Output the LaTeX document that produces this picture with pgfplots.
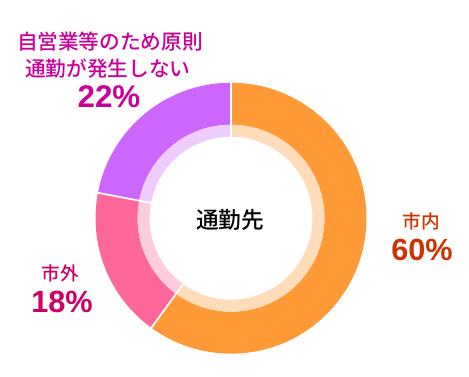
\documentclass[border=0pt]{standalone}
\usepackage{fontspec}
\setmainfont{Liberation Sans}
\newfontfamily\cjk{Noto Sans CJK JP Medium}
\usepackage{pgfplots}
\usepackage{pgfplotstable}
\pgfplotsset{compat=1.18}
\usetikzlibrary{calc}

\definecolor{orangeM}{HTML}{FF9A36}
\definecolor{orangeL}{HTML}{FFDDBB}
\definecolor{pinkM}{HTML}{FF6699}
\definecolor{pinkL}{HTML}{FFCCDD}
\definecolor{purpleM}{HTML}{CC66FF}
\definecolor{purpleL}{HTML}{EECCFF}
\definecolor{labOrange}{HTML}{CC3300}
\definecolor{labPink}{HTML}{CC0066}
\definecolor{labPurple}{HTML}{CC0099}

\pgfplotstableread{
part value
shinai 60
shigai 18
jiei 22
}\commutetable

\pgfplotstablegetelem{0}{value}\of\commutetable \edef\va{\pgfplotsretval}
\pgfplotstablegetelem{1}{value}\of\commutetable \edef\vb{\pgfplotsretval}
\pgfplotstablegetelem{2}{value}\of\commutetable \edef\vc{\pgfplotsretval}
\pgfmathsetmacro\aA{90}
\pgfmathsetmacro\aB{90-3.6*\va}
\pgfmathsetmacro\aC{\aB-3.6*\vb}
\pgfmathsetmacro\aD{\aC-3.6*\vc}

% radii (pt): outer, main inner, light inner
\newcommand\rO{101.6pt}
\newcommand\rM{70.1pt}
\newcommand\rL{61.1pt}

\newcommand\sector[4]{%
  \fill[#3] ([shift={(#1:\rO)}]c) arc[start angle=#1,end angle=#2,radius=\rO]
     -- ([shift={(#2:\rM)}]c) arc[start angle=#2,end angle=#1,radius=\rM] -- cycle;
  \fill[#4] ([shift={(#1:\rM)}]c) arc[start angle=#1,end angle=#2,radius=\rM]
     -- ([shift={(#2:\rL)}]c) arc[start angle=#2,end angle=#1,radius=\rL] -- cycle;
}
\newcommand\sep[1]{%
  \draw[white,line width=1.3pt] ([shift={(#1:60pt)}]c) -- ([shift={(#1:103pt)}]c);
}

\begin{document}
\begin{tikzpicture}
\useasboundingbox (0,0) rectangle (351.75pt,282.75pt);
\begin{axis}[width=351.75pt,height=282.75pt,scale only axis,
  xmin=0,xmax=469,ymin=-377,ymax=0,hide axis,clip=false]
\coordinate (c) at (axis cs:231,-218.2);
\sector{\aA}{\aB}{orangeM}{orangeL}
\sector{\aB}{\aC}{pinkM}{pinkL}
\sector{\aC}{\aD}{purpleM}{purpleL}
\sep{\aA}
\sep{\aB}
\sep{\aC}
\node[font=\cjk\fontsize{17}{20}\selectfont] at (axis cs:230,-220) {通勤先};
% labels
\node[text=labOrange,font=\cjk\fontsize{14}{17}\selectfont] at (axis cs:421,-221) {市内};
\node[text=labOrange,font=\bfseries\fontsize{23}{26}\selectfont] at (axis cs:422,-250) {60\%};
\node[text=labPink,font=\cjk\fontsize{14}{17}\selectfont] at (axis cs:60,-273) {市外};
\node[text=labPink,font=\bfseries\fontsize{23}{26}\selectfont] at (axis cs:62,-302) {18\%};
\node[text=labPurple,font=\cjk\fontsize{15.5}{18}\selectfont] at (axis cs:110,-42) {自営業等のため原則};
\node[text=labPurple,font=\cjk\fontsize{15.5}{18}\selectfont] at (axis cs:108,-69) {通勤が発生しない};
\node[text=labPurple,font=\bfseries\fontsize{23.5}{26}\selectfont] at (axis cs:109,-97) {22\%};
\end{axis}
\end{tikzpicture}
\end{document}
